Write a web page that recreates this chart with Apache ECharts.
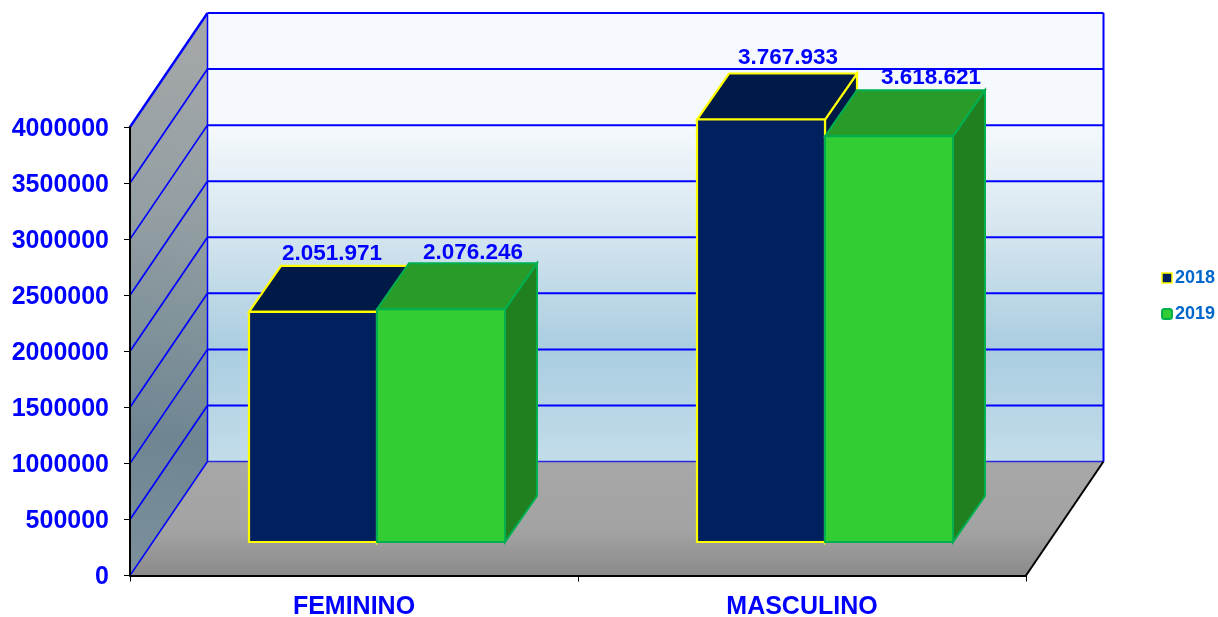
<!DOCTYPE html>
<html>
<head>
<meta charset="utf-8">
<style>html,body{margin:0;padding:0;background:#fff}#c{width:1218px;height:617px}</style>
<script src="https://cdn.jsdelivr.net/npm/echarts@6/dist/echarts.min.js"></script>
</head>
<body>
<div id="c"></div>
<script>
const categories = ['FEMININO', 'MASCULINO'];
const seriesNames = ['2018', '2019'];
const values2018 = [2051971, 3767933];
const values2019 = [2076246, 3618621];
const yTicks = [0, 500000, 1000000, 1500000, 2000000, 2500000, 3000000, 3500000, 4000000];

// 3D projection constants (pixels)
const WALL_DX = 77.5, WALL_DY = -114;      // depth of the chart box
const BAR_SHIFT_X = 23, BAR_SHIFT_Y = -33.5; // bars sit this far back on the floor
const BAR_DX = 32, BAR_DY = -46;         // depth of a bar
const BAR_W_RATIO = 128 / 448;
const FONT = '"Liberation Sans", Arial, sans-serif';
const BLUE = '#0000ff';
// nudges of value labels: [series][category] => [dx, dy] from top-back edge centre
const labelNudges = [
  [[-13, -12], [-5, -15.5]],
  [[0, -10], [10, -12]]
];

const chart = echarts.init(document.getElementById('c'), null, { renderer: 'canvas' });

function fmt(v) { return String(v).replace(/\B(?=(\d{3})+$)/g, '.'); }
function poly(points, style, z2) {
  return { type: 'polygon', shape: { points }, style, z2: z2 || 0 };
}
function line(x1, y1, x2, y2, stroke, w, z2) {
  return { type: 'line', shape: { x1, y1, x2, y2 }, style: { stroke, lineWidth: w, fill: null }, z2: z2 || 1 };
}
function grad(stops) {
  return new echarts.graphic.LinearGradient(0, 0, 0, 1, stops.map(s => ({ offset: s[0], color: s[1] })));
}

function renderBox(params, api) {
  const cs = params.coordSys;
  const x0 = cs.x, x1 = cs.x + cs.width;
  const yOf = v => api.coord([0, v])[1];
  const base = yOf(0), top = yOf(yTicks[yTicks.length - 1]);
  const upper = top + WALL_DY;
  const ch = [];
  // back wall
  ch.push(poly([[x0 + WALL_DX, upper], [x1 + WALL_DX, upper], [x1 + WALL_DX, base + WALL_DY], [x0 + WALL_DX, base + WALL_DY]], {
    fill: grad([[0, '#f6faff'], [0.25, '#f5f9fc'], [0.5, '#d3e4ee'], [0.75, '#a9cde0'], [1, '#c3dcea']])
  }));
  // left wall
  ch.push(poly([[x0, top], [x0 + WALL_DX, upper], [x0 + WALL_DX, base + WALL_DY], [x0, base]], {
    fill: new echarts.graphic.LinearGradient(0.9, 0, 0, 1, [
      { offset: 0, color: '#a6a8a9' }, { offset: 0.35, color: '#949fa3' },
      { offset: 0.75, color: '#6f8692' }, { offset: 1, color: '#7b909b' }
    ])
  }));
  // floor
  ch.push(poly([[x0, base], [x0 + WALL_DX, base + WALL_DY], [x1 + WALL_DX, base + WALL_DY], [x1, base]], {
    fill: grad([[0, '#a7a7a7'], [0.6, '#a3a3a3'], [1, '#8a8a8a']])
  }));
  // grid lines
  yTicks.forEach(t => {
    const y = yOf(t);
    ch.push(line(x0, y, x0 + WALL_DX, y + WALL_DY, BLUE, t === 0 ? 1.5 : (t === yTicks[yTicks.length - 1] ? 2.4 : 1.7)));
    if (t > 0) ch.push(line(x0 + WALL_DX, y + WALL_DY, x1 + WALL_DX, y + WALL_DY, BLUE, 2));
  });
  ch.push(line(x0 + WALL_DX, base + WALL_DY, x1 + WALL_DX, base + WALL_DY, '#2a2ad8', 1.5));
  ch.push(line(x0 + WALL_DX, upper, x0 + WALL_DX, base + WALL_DY, BLUE, 1.5));
  ch.push(line(x1 + WALL_DX, upper, x1 + WALL_DX, base + WALL_DY, BLUE, 2));
  ch.push(line(x1, base, x1 + WALL_DX, base + WALL_DY, '#000', 2));
  return { type: 'group', children: ch };
}

function barRenderer(sIndex, pal) {
  return function (params, api) {
    const idx = api.value(0), val = api.value(1);
    const c = api.coord([idx, val]);
    const b = api.coord([idx, 0]);
    const band = api.size([1, 0])[0];
    const w = band * BAR_W_RATIO;
    const left = c[0] + BAR_SHIFT_X + (sIndex === 0 ? -w : 0);
    const right = left + w;
    const bottom = b[1] + BAR_SHIFT_Y;
    const topY = c[1] + BAR_SHIFT_Y;
    const s = { stroke: pal.edge, lineWidth: pal.lw, lineJoin: 'miter' };
    const nudge = labelNudges[sIndex][params.dataIndex];
    return {
      type: 'group',
      children: [
        poly([[right, topY], [right + BAR_DX, topY + BAR_DY], [right + BAR_DX, bottom + BAR_DY], [right, bottom]],
          Object.assign({ fill: pal.side }, s)),
        poly([[left, topY], [left + BAR_DX, topY + BAR_DY], [right + BAR_DX, topY + BAR_DY], [right, topY]],
          Object.assign({ fill: pal.top }, s)),
        poly([[left, topY], [right, topY], [right, bottom], [left, bottom]],
          Object.assign({ fill: pal.front }, s)),
        {
          type: 'text', z2: 5,
          style: {
            x: (left + right) / 2 + BAR_DX + nudge[0],
            y: topY + BAR_DY + nudge[1],
            text: fmt(val), fill: BLUE, align: 'center', verticalAlign: 'middle',
            font: 'bold 22.5px ' + FONT
          }
        }
      ]
    };
  };
}

const pal2018 = { front: '#002060', top: '#001a48', side: '#001a48', edge: '#ffff00', lw: 2.2 };
const pal2019 = { front: '#32cd32', top: '#289b28', side: '#208020', edge: '#00b050', lw: 2 };

chart.setOption({
  animation: false,
  backgroundColor: '#ffffff',
  grid: { left: 130, top: 127, width: 896, height: 448.5, containLabel: false, outerBoundsMode: 'none' },
  legend: {
    orient: 'vertical', left: 1161, top: 269, itemWidth: 10, itemHeight: 10, itemGap: 18,
    data: [
      { name: '2018', icon: 'rect', itemStyle: { color: '#002060', borderColor: '#ffff00', borderWidth: 1.5 } },
      { name: '2019', icon: 'roundRect', itemStyle: { color: '#32cd32', borderColor: '#00b050', borderWidth: 2 } }
    ],
    textStyle: { color: '#0066cc', fontFamily: FONT, fontWeight: 'bold', fontSize: 18, padding: [0, 0, 0, -2] },
    padding: 0, selectedMode: false
  },
  xAxis: {
    type: 'category', data: categories, z: 6,
    axisLine: { show: true, lineStyle: { color: '#000', width: 2 } },
    axisTick: { show: true, length: 6, lineStyle: { color: '#000', width: 1 } },
    axisLabel: { color: BLUE, fontFamily: FONT, fontWeight: 'bold', fontSize: 25, margin: 19 },
    splitLine: { show: false }
  },
  yAxis: {
    type: 'value', min: 0, max: 4000000, interval: 500000, z: 6,
    axisLine: { show: true, lineStyle: { color: '#000', width: 2 } },
    axisTick: { show: true, length: 6, lineStyle: { color: '#000', width: 1 } },
    axisLabel: {
      margin: 21,
      formatter: v => '{t|' + v + '}',
      rich: { t: { color: BLUE, fontFamily: FONT, fontWeight: 'bold', fontSize: 25, padding: [4, 0, 0, 0] } }
    },
    splitLine: { show: false }
  },
  series: [
    { type: 'custom', name: 'box', z: 1, silent: true, clip: false, data: [[0, 0]], renderItem: renderBox },
    { type: 'custom', name: seriesNames[0], z: 2, clip: false, itemStyle: { color: pal2018.front },
      data: values2018.map((v, i) => [i, v]), encode: { x: 0, y: 1 }, renderItem: barRenderer(0, pal2018) },
    { type: 'custom', name: seriesNames[1], z: 3, clip: false, itemStyle: { color: pal2019.front },
      data: values2019.map((v, i) => [i, v]), encode: { x: 0, y: 1 }, renderItem: barRenderer(1, pal2019) }
  ]
});
</script>
</body>
</html>
